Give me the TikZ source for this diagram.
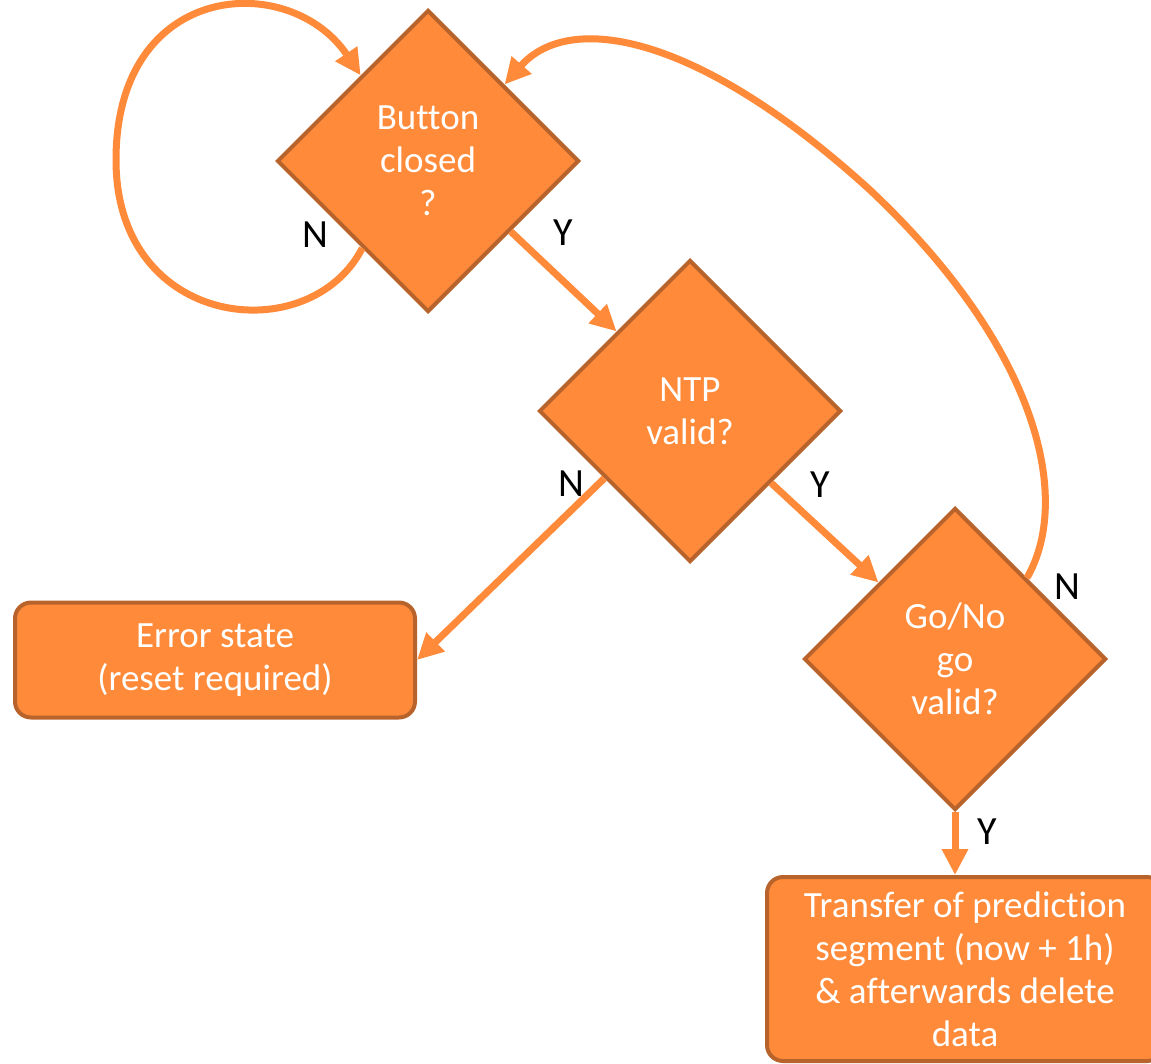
\documentclass[tikz,border=0pt]{standalone}
\usepackage{fontspec}
\setmainfont{Carlito}[Ligatures=NoCommon]
\usetikzlibrary{shapes.geometric,arrows.meta,calc}
\definecolor{fillor}{HTML}{FE8A3A}
\definecolor{bordor}{HTML}{B8632B}
\begin{document}
\begin{tikzpicture}[x=1pt,y=-1pt,
  dec/.style={diamond, draw=bordor, fill=fillor, line width=4pt, minimum width=302pt, minimum height=302pt, inner sep=0pt, text=white, font=\fontsize{37}{43}\selectfont, align=center},
  procbox/.style={rectangle, rounded corners=16pt, draw=bordor, fill=fillor, line width=4pt, text=white, font=\fontsize{37}{43}\selectfont, align=center},
  conn/.style={draw=fillor, line width=7pt, -{Triangle[length=26pt,width=25pt]}},
  lab/.style={font=\fontsize{40}{42}\selectfont, text=black, inner sep=0pt}]
\useasboundingbox (0,0) rectangle (1151,1063);
\node[dec] (d1) at (428,161) {Button\\closed\\?};
\node[dec] (d2) at (690,411) {NTP\\valid?};
\node[dec] (d3) at (955,659) {Go/No\\go\\valid?};
\node[procbox, minimum width=400pt, minimum height=115pt] (err) at (215,660) {Error state\\(reset required)};
\node[procbox, minimum width=396pt, minimum height=184pt] (tr) at (965,969) {Transfer of prediction\\segment (now + 1h)\\\& afterwards delete\\data};
% connectors
\draw[conn] ($(d1.west)!0.57!(d1.south)$) .. controls (310,350) and (116,330) .. (116,160) .. controls (116,-20) and (290,-30) .. ($(d1.west)!0.56!(d1.north)$);
\draw[conn] ($(d1.south)!0.54!(d1.east)$) -- ($(d2.west)!0.52!(d2.north)$);
\draw[conn] ($(d2.west)!0.44!(d2.south)$) -- (err.east);
\draw[conn] ($(d2.south)!0.53!(d2.east)$) -- ($(d3.west)!0.5!(d3.north)$);
\draw[conn] (d3.south) -- (d3.south |- tr.north);
\draw[conn] ($(d3.north)!0.47!(d3.east)$) .. controls (1072,500) and (1040,350) .. (870,190) .. controls (700,35) and (570,10) .. ($(d1.north)!0.5!(d1.east)$);
% labels
\node[lab] (l1) at (315,235) {N};
\node[lab] (l2) at (563,233) {Y};
\node[lab] (l3) at (571,484) {N};
\node[lab] (l4) at (820,485) {Y};
\node[lab] (l5) at (1067,587) {N};
\node[lab] (l6) at (987,832) {Y};
\end{tikzpicture}
\end{document}
